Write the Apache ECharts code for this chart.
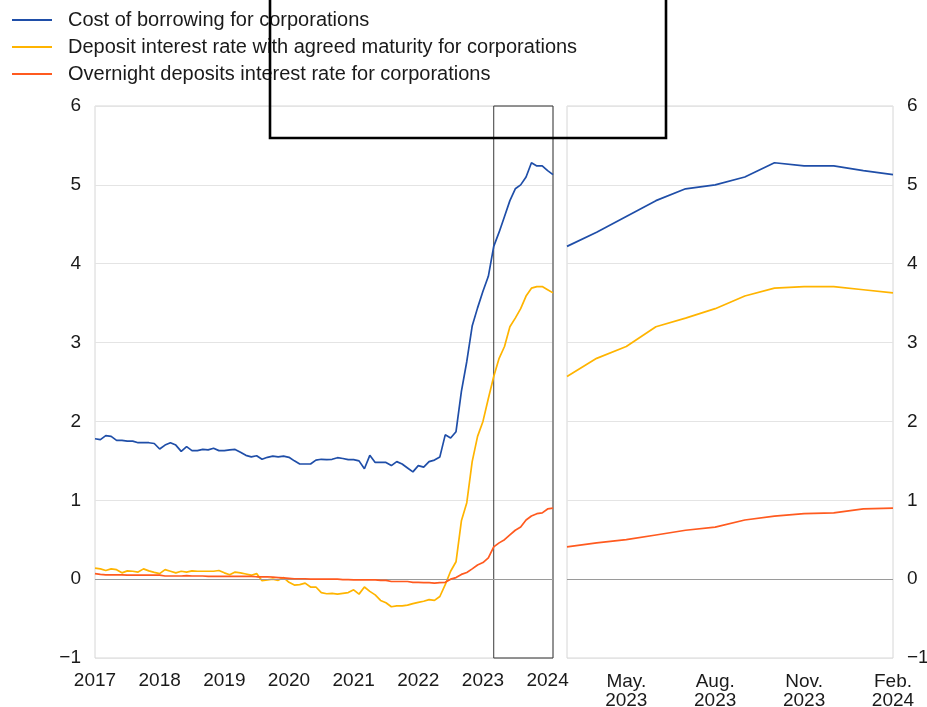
<!DOCTYPE html>
<html>
<head>
<meta charset="utf-8">
<script src="https://cdn.jsdelivr.net/npm/echarts@6/dist/echarts.min.js"></script>
<style>
  html, body { margin: 0; padding: 0; background: #ffffff; }
  #chart { width: 927px; height: 707px; }
</style>
</head>
<body>
<div id="chart"></div>
<script>
// Monthly rates for corporations, Jan 2017 – Feb 2024 (percentages per annum)
const seriesNames = [
  'Cost of borrowing for corporations',
  'Deposit interest rate with agreed maturity for corporations',
  'Overnight deposits interest rate for corporations'
];
const seriesColors = ['#1f4ea8', '#ffb400', '#ff5a1f'];

const costOfBorrowing = [
  1.78, 1.77, 1.82, 1.81, 1.76, 1.76, 1.75, 1.75, 1.73, 1.73, 1.73, 1.72,
  1.65, 1.70, 1.73, 1.70, 1.62, 1.68, 1.63, 1.63, 1.645, 1.64, 1.66, 1.63,
  1.63, 1.64, 1.645, 1.61, 1.57, 1.55, 1.565, 1.52, 1.545, 1.56, 1.55, 1.56,
  1.545, 1.50, 1.46, 1.46, 1.46, 1.51, 1.52, 1.515, 1.52, 1.54, 1.53, 1.515,
  1.515, 1.50, 1.40, 1.57, 1.48, 1.48, 1.48, 1.44, 1.49, 1.46, 1.41, 1.36,
  1.44, 1.42, 1.49, 1.51, 1.55, 1.83, 1.79, 1.87, 2.38, 2.76, 3.21, 3.44,
  3.65, 3.84, 4.22, 4.40, 4.60, 4.80, 4.95, 5.00, 5.10, 5.28, 5.24, 5.24,
  5.18, 5.13
];
const agreedMaturityRate = [
  0.14, 0.13, 0.11, 0.13, 0.12, 0.08, 0.105, 0.10, 0.09, 0.13, 0.105, 0.085,
  0.07, 0.12, 0.10, 0.08, 0.10, 0.09, 0.105, 0.10, 0.10, 0.10, 0.10, 0.11,
  0.08, 0.055, 0.09, 0.08, 0.065, 0.05, 0.07, -0.02, -0.01, 0.0, -0.015, 0.02,
  -0.04, -0.075, -0.07, -0.05, -0.10, -0.10, -0.17, -0.185, -0.18, -0.19, -0.18, -0.17,
  -0.135, -0.19, -0.10, -0.155, -0.20, -0.27, -0.30, -0.35, -0.34, -0.34, -0.33, -0.31,
  -0.295, -0.28, -0.26, -0.27, -0.22, -0.07, 0.10, 0.22, 0.74, 0.97, 1.49, 1.81,
  2.00, 2.29, 2.57, 2.80, 2.95, 3.20, 3.31, 3.43, 3.59, 3.69, 3.71, 3.71,
  3.67, 3.63
];
const overnightRate = [
  0.07, 0.06, 0.055, 0.055, 0.055, 0.055, 0.05, 0.05, 0.05, 0.05, 0.05, 0.05,
  0.05, 0.04, 0.04, 0.04, 0.04, 0.045, 0.04, 0.04, 0.04, 0.035, 0.035, 0.035,
  0.035, 0.035, 0.035, 0.035, 0.035, 0.035, 0.03, 0.03, 0.03, 0.025, 0.02, 0.015,
  0.01, 0.005, 0.005, 0.005, 0.0, 0.0, 0.0, 0.0, 0.0, 0.0, -0.005, -0.005,
  -0.01, -0.01, -0.01, -0.01, -0.01, -0.015, -0.015, -0.03, -0.03, -0.03, -0.03, -0.04,
  -0.04, -0.045, -0.045, -0.05, -0.045, -0.04, 0.0, 0.02, 0.06, 0.085, 0.13, 0.18,
  0.21, 0.27, 0.41, 0.46, 0.50, 0.56, 0.62, 0.66, 0.75, 0.80, 0.83, 0.84,
  0.89, 0.90
];

const startYear = 2017;
const detailStart = '2023-03';          // first month of the detail panel
const yearLabels = ['2017', '2018', '2019', '2020', '2021', '2022', '2023', '2024'];
const detailLabels = ['May.\n2023', 'Aug.\n2023', 'Nov.\n2023', 'Feb.\n2024'];
const yTicks = { min: -1, max: 6, interval: 1 };

// Month keys "YYYY-MM" for every observation
const months = costOfBorrowing.map((_, i) => {
  const y = startYear + Math.floor(i / 12);
  const m = (i % 12) + 1;
  return y + '-' + (m < 10 ? '0' + m : m);
});
const detailIdx = months.indexOf(detailStart);
const detailMonths = months.slice(detailIdx);
const allSeries = [costOfBorrowing, agreedMaturityRate, overnightRate];

const FONT = '"Liberation Sans", Arial, sans-serif';
const TXT = '#1a1a1a';
const GRID_LINE = '#e4e4e4';
const BORDER = '#d6d6d6';

const fmtY = v => (v < 0 ? '\u2212' + Math.abs(v) : String(v));

function yAxisFor(gridIndex, position) {
  return {
    type: 'value', gridIndex, position,
    min: yTicks.min, max: yTicks.max, interval: yTicks.interval,
    axisLine: { show: false },
    axisTick: { show: false },
    splitLine: { lineStyle: { color: GRID_LINE, width: 1 } },
    axisLabel: {
      color: TXT, fontFamily: FONT, fontSize: 19, margin: 14,
      padding: [4, 0, 0, 0],
      formatter: fmtY
    }
  };
}

const zeroLine = {
  silent: true, symbol: 'none', label: { show: false },
  lineStyle: { color: '#9a9a9a', type: 'solid', width: 1 },
  data: [{ yAxis: 0 }]
};

const series = [];
allSeries.forEach((vals, k) => {
  series.push({
    name: seriesNames[k], type: 'line', xAxisIndex: 0, yAxisIndex: 0,
    data: vals, showSymbol: false, symbol: 'none',
    lineStyle: { color: seriesColors[k], width: 1.7 },
    itemStyle: { color: seriesColors[k] },
    z: 3 + k,
    markLine: k === 0 ? zeroLine : undefined,
    markArea: k === 0 ? {
      silent: true,
      itemStyle: { color: 'rgba(0,0,0,0)', borderColor: '#3a3a3a', borderWidth: 1 },
      data: [[{ xAxis: detailStart, yAxis: yTicks.min }, { xAxis: months[months.length - 1], yAxis: yTicks.max }]]
    } : undefined
  });
});
allSeries.forEach((vals, k) => {
  series.push({
    name: seriesNames[k], type: 'line', xAxisIndex: 1, yAxisIndex: 1,
    data: vals.slice(detailIdx), showSymbol: false, symbol: 'none',
    lineStyle: { color: seriesColors[k], width: 1.7 },
    itemStyle: { color: seriesColors[k] },
    z: 3 + k,
    markLine: k === 0 ? zeroLine : undefined
  });
});

const chart = echarts.init(document.getElementById('chart'), null, { renderer: 'canvas' });
chart.setOption({
  animation: false,
  backgroundColor: '#ffffff',
  textStyle: { fontFamily: FONT },
  legend: {
    orient: 'vertical', left: 12, top: 9, padding: 0,
    data: seriesNames,
    icon: 'rect', itemWidth: 40, itemHeight: 2, itemGap: 5,
    textStyle: { color: TXT, fontFamily: FONT, fontSize: 20, lineHeight: 22, padding: [0, 0, 0, 11] },
    selectedMode: false
  },
  grid: [
    { left: 95, top: 106, width: 458, height: 552, show: true, borderColor: BORDER, borderWidth: 1,
      outerBoundsMode: 'none', containLabel: false },
    { left: 567, top: 106, width: 326, height: 552, show: true, borderColor: BORDER, borderWidth: 1,
      outerBoundsMode: 'none', containLabel: false }
  ],
  xAxis: [
    {
      type: 'category', gridIndex: 0, data: months, boundaryGap: false,
      axisLine: { show: false }, axisTick: { show: false }, splitLine: { show: false },
      axisLabel: {
        color: TXT, fontFamily: FONT, fontSize: 19, margin: 13,
        interval: (i, v) => v.endsWith('-01') && yearLabels.includes(v.slice(0, 4)),
        formatter: v => v.slice(0, 4)
      }
    },
    {
      type: 'category', gridIndex: 1, data: detailMonths, boundaryGap: false,
      axisLine: { show: false }, axisTick: { show: false }, splitLine: { show: false },
      axisLabel: {
        color: TXT, fontFamily: FONT, fontSize: 19, lineHeight: 19, margin: 14,
        interval: i => i >= 2 && (i - 2) % 3 === 0,
        formatter: (v, i) => detailLabels[Math.floor((i - 2) / 3)] || ''
      }
    }
  ],
  yAxis: [yAxisFor(0, 'left'), yAxisFor(1, 'right')],
  graphic: [{
    type: 'rect', silent: true, z: 100,
    shape: { x: 270, y: -10, width: 396, height: 148 },
    style: { fill: 'none', stroke: '#000000', lineWidth: 2.6 }
  }],
  series
});
</script>
</body>
</html>
